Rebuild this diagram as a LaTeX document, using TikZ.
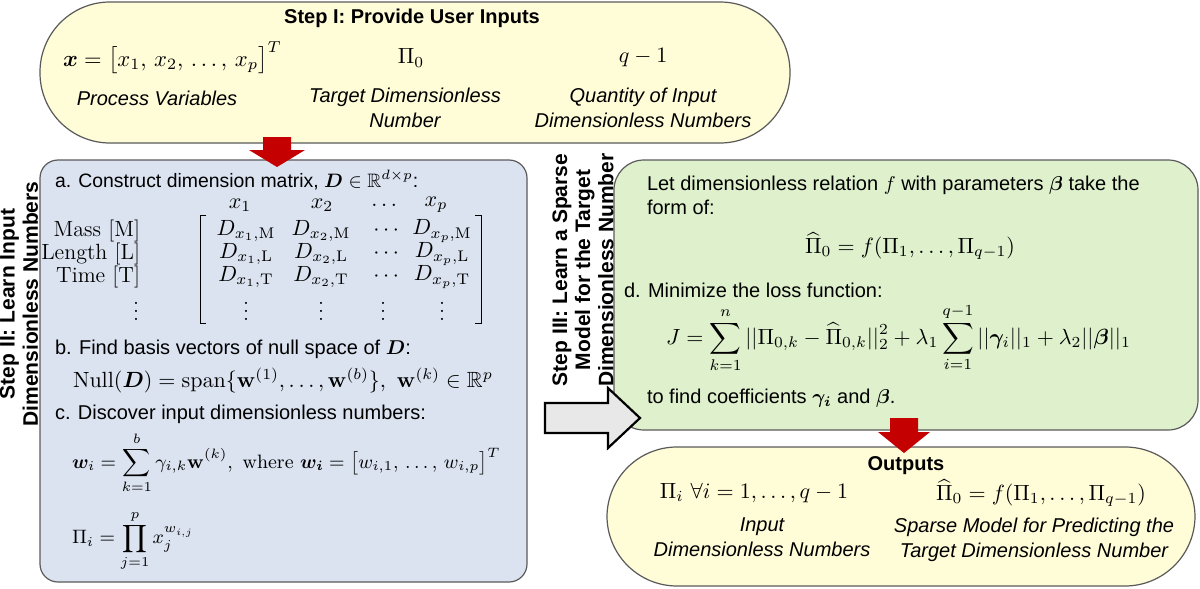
\RequirePackage{fix-cm}
\documentclass[tikz,border=0pt]{standalone}
\usepackage{amsmath,amssymb,bm}
\usepackage[no-math]{fontspec}
\setsansfont{Liberation Sans}
\definecolor{ybox}{RGB}{255,252,216}
\definecolor{bbox}{RGB}{219,227,240}
\definecolor{gbox}{RGB}{222,240,204}
\definecolor{edge}{RGB}{90,90,90}
\definecolor{redarrow}{RGB}{196,0,0}
\definecolor{grayarrow}{RGB}{232,232,232}
\begin{document}
\begin{tikzpicture}[x=0.5pt,y=-0.5pt,
  every node/.style={inner sep=0pt,outer sep=0pt},
  txt/.style={font=\sffamily\fontsize{10}{12}\selectfont},
  itl/.style={font=\sffamily\itshape\fontsize{10}{12.5}\selectfont,align=center},
  ttl/.style={font=\sffamily\bfseries\fontsize{10}{12}\selectfont,align=center},
  rot/.style={font=\sffamily\bfseries\fontsize{10.5}{11.6}\selectfont,align=center,rotate=90},
  mth/.style={font=\fontsize{11}{13}\selectfont},
  dmth/.style={font=\fontsize{9.7}{12}\selectfont},
  ybx/.style={draw=edge,fill=ybox,line width=0.6pt,rounded corners=35pt},
  bbx/.style={draw=edge,fill=bbox,line width=0.6pt,rounded corners=9pt},
  gbx/.style={draw=edge,fill=gbox,line width=0.6pt,rounded corners=15pt},
  redarr/.style={fill=redarrow,draw=none},
  grayarr/.style={fill=grayarrow,draw=black,line width=1.1pt,line join=miter},
  brk/.style={line width=0.5pt}
]
\useasboundingbox (0,0) rectangle (1200,589);
% boxes
\path[ybx] (40,2) rectangle (790,143);
\path[bbx] (40,160) rectangle (527,582);
\path[gbx] (614,160) rectangle (1198,430);
\path[ybx] (607,447) rectangle (1195,586);

% red arrows
\path[redarr] (263,137) -- (291,137) -- (291,150) -- (305,150) -- (277,167) -- (249,150) -- (263,150) -- cycle;
\path[redarr] (890,418) -- (918,418) -- (918,432) -- (930,432) -- (904,453) -- (878,432) -- (890,432) -- cycle;
% gray arrow
\path[grayarr] (545,403) -- (608,403) -- (608,388) -- (640,418) -- (608,448) -- (608,433) -- (545,433) -- cycle;

% Step I
\node[ttl] (t1) at (412,18) {Step I: Provide User Inputs};
\node[mth,anchor=west,font=\fontsize{11.3}{13}\selectfont] (xv) at (63,58) {$\boldsymbol{x}=\bigl[x_1,\,x_2,\,\dots,\,x_p\bigr]^T$};
\node[mth] (pi0) at (411,58) {$\Pi_0$};
\node[mth] (q1) at (643,58) {$q-1$};
\node[itl] (pv) at (157,98) {Process Variables};
\node[itl,anchor=north] (tdn) at (405,88) {Target Dimensionless\\Number};
\node[itl,anchor=north] (qin) at (643,88) {Quantity of Input\\Dimensionless Numbers};

% Step II label
\node[rot] (s2) at (19,304) {Step II: Learn Input\\Dimensionless Numbers};
% Step III label
\node[rot] (s3) at (583,270) {Step III: Learn a Sparse\\Model for the Target\\Dimensionless Number};

% blue box content
\node[txt,anchor=west,font=\sffamily\fontsize{9.7}{12}\selectfont] (a) at (55,180) {a. Construct dimension matrix, $\boldsymbol{D}\in\mathbb{R}^{d\times p}$:};
\foreach \n/\x/\t in {h1/240/x_1,h2/322/x_2,h3/386/\dots,h4/436/x_p}
  \node[mth] (\n) at (\x,205) {$\t$};
\foreach \n/\y/\t in {rm/231/Mass [M],rl/254/Length [L],rt/277/Time [T]}
  \node[mth,anchor=east] (\n) at (140,\y) {\t};
\node[mth] (rv) at (136,305) {$\vdots$};
\foreach \c/\x/\s in {1/246/x_1,2/321/x_2,4/442/x_p}{
  \node[mth] (m\c M) at (\x,231) {$D_{\s,\mathrm{M}}$};
  \node[mth] (m\c L) at (\x,254) {$D_{\s,\mathrm{L}}$};
  \node[mth] (m\c T) at (\x,277) {$D_{\s,\mathrm{T}}$};
  \node[mth] (m\c V) at (\x,305) {$\vdots$};
}
\node[mth] (m3M) at (388,231) {$\cdots$};
\node[mth] (m3L) at (388,254) {$\cdots$};
\node[mth] (m3T) at (388,277) {$\cdots$};
\node[mth] (m3V) at (383,305) {$\vdots$};
\draw[brk] (206,215) -- (200,215) -- (200,323) -- (206,323);
\draw[brk] (475,215) -- (481,215) -- (481,323) -- (475,323);

\node[txt,anchor=west] (b) at (55,349) {b. Find basis vectors of null space of $\boldsymbol{D}$:};
\node[mth,anchor=west] (nul) at (73,380) {$\mathrm{Null}(\boldsymbol{D})=\mathrm{span}\{\mathbf{w}^{(1)},\dots,\mathbf{w}^{(b)}\},\ \mathbf{w}^{(k)}\in\mathbb{R}^p$};
\node[txt,anchor=west] (c) at (55,414) {c. Discover input dimensionless numbers:};
\node[dmth,anchor=west] (wi) at (72,463) {$\displaystyle \boldsymbol{w}_i=\sum_{k=1}^{b}\gamma_{i,k}\mathbf{w}^{(k)},\ \mathrm{where}\ \boldsymbol{w_i}=\bigl[w_{i,1},\,\dots,\,w_{i,p}\bigr]^T$};
\node[dmth,anchor=west] (pii) at (72,541) {$\displaystyle \Pi_i=\prod_{j=1}^{p}x_j^{w_{i,j}}$};

% green box content
\node[txt,anchor=north west,align=left] (let) at (647,176) {Let dimensionless relation $f$ with parameters $\boldsymbol{\beta}$ take the\\form of:};
\node[mth] (fh) at (910,246) {$\widehat{\Pi}_0=f(\Pi_1,\dots,\Pi_{q-1})$};
\node[txt,anchor=west] (d) at (624,290) {d. Minimize the loss function:};
\node[mth,anchor=west] (J) at (666,338) {$\displaystyle J=\sum_{k=1}^{n}||\Pi_{0,k}-\widehat{\Pi}_{0,k}||_2^2+\lambda_1\sum_{i=1}^{q-1}||\boldsymbol{\gamma}_i||_1+\lambda_2||\boldsymbol{\beta}||_1$};
\node[txt,anchor=west] (tf) at (647,398) {to find coefficients $\boldsymbol{\gamma_i}$ and $\boldsymbol{\beta}$.};

% outputs
\node[ttl] (out) at (906,466) {Outputs};
\node[mth] (o1) at (754,493) {$\Pi_i\ \forall i=1,\dots,q-1$};
\node[mth] (o2) at (1041,493) {$\widehat{\Pi}_0=f(\Pi_1,\dots,\Pi_{q-1})$};
\node[itl,anchor=north] (ol1) at (762,518) {Input\\Dimensionless Numbers};
\node[itl,anchor=north] (ol2) at (1034,518) {Sparse Model for Predicting the\\Target Dimensionless Number};
\end{tikzpicture}
\end{document}
